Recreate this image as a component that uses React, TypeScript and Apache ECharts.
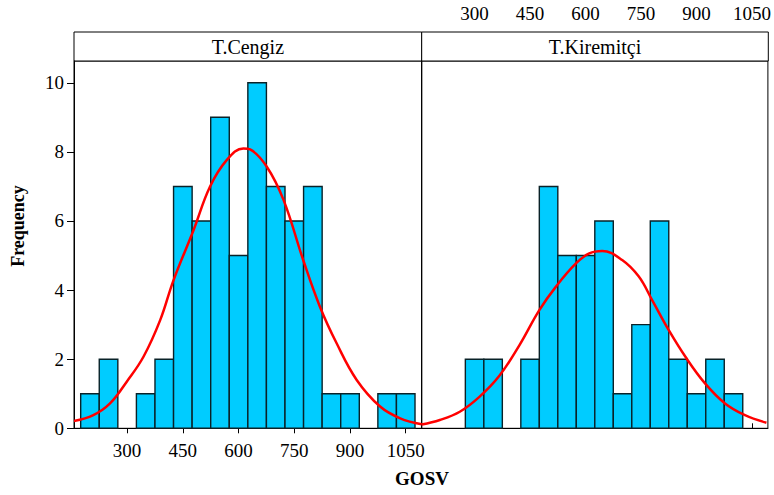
import React, { useEffect, useRef } from "react";
import * as echarts from "echarts";

// ---- data ----
const binStarts = [175, 225, 275, 325, 375, 425, 475, 525, 575, 625, 675, 725, 775, 825, 875, 925, 975, 1025];
const binWidth = 50;
const cengizCounts = [1, 2, 0, 1, 2, 7, 6, 9, 5, 10, 7, 6, 7, 1, 1, 0, 1, 1];
const kiremitciCounts = [0, 0, 2, 2, 0, 2, 7, 5, 5, 6, 1, 3, 6, 2, 1, 2, 1, 0];
const xTickValues = [300, 450, 600, 750, 900, 1050];
const yTickValues = [0, 2, 4, 6, 8, 10];
const panelTitles = ["T.Cengiz", "T.Kiremitçi"];
const xAxisTitle = "GOSV";
const yAxisTitle = "Frequency";
const cengizCurve = [
  [157, 0.21], [209, 0.38], [254, 0.72], [299, 1.35], [344, 2.07], [389, 3.13], [425, 4.29],
  [479, 5.74], [523, 6.99], [568, 7.76], [613, 8.1], [631, 8.07], [676, 7.57], [721, 6.61],
  [774, 4.87], [819, 3.52], [864, 2.46], [918, 1.4], [981, 0.63], [1035, 0.29], [1093, 0.12],
];
const kiremitciCurve = [
  [157, 0.11], [206, 0.24], [260, 0.48], [313, 0.91], [367, 1.52], [421, 2.4], [475, 3.42],
  [520, 4.1], [574, 4.77], [610, 5.06], [645, 5.13], [699, 4.87], [744, 4.39], [780, 3.71],
  [825, 2.84], [870, 2.07], [923, 1.3], [977, 0.72], [1031, 0.38], [1089, 0.16],
];

const X_MIN = 157;
const X_MAX = 1093;
const Y_MAX = 10.63;

const FONT = "Times New Roman, Liberation Serif, DejaVu Serif, serif";

export default function App() {
  const ref = useRef<HTMLDivElement>(null);

  useEffect(() => {
    if (!ref.current) return;
    const chart = echarts.init(ref.current, undefined, { renderer: "svg" });

    const barData = (counts: number[]) =>
      binStarts
        .map((s, i) => [s, s + binWidth, counts[i]])
        .filter((d) => d[2] > 0);

    const renderBar = (params: any, api: any) => {
      const lo = api.value(0);
      const hi = api.value(1);
      const c = api.value(2);
      const p0 = api.coord([lo, c]);
      const p1 = api.coord([hi, 0]);
      return {
        type: "rect",
        shape: { x: p0[0], y: p0[1], width: p1[0] - p0[0], height: p1[1] - p0[1] },
        style: { fill: "#00CCFF", stroke: "#0a2228", lineWidth: 1.4 },
      };
    };

    const gridTop = 61;
    const gridBottom = 495 - 428.3;
    const leftX0 = 74;
    const midX = 421.7;
    const rightX1 = 768.3;

    const fmt = (v: number) => String(v);

    const xAxisBase = {
      type: "value",
      min: X_MIN,
      max: X_MAX,
      splitLine: { show: false },
      axisLine: { show: true, lineStyle: { color: "#000", width: 1 } },
      axisTick: { show: true, customValues: xTickValues, length: 5, lineStyle: { color: "#000" } },
      axisLabel: { customValues: xTickValues, formatter: fmt, fontSize: 19, color: "#000", fontFamily: FONT },
    };

    const yAxisBase = {
      type: "value",
      min: 0,
      max: Y_MAX,
      splitLine: { show: false },
      axisLine: { show: true, lineStyle: { color: "#000", width: 1 } },
    };

    const option: any = {
      animation: false,
      backgroundColor: "#fff",
      textStyle: { fontFamily: FONT },
      grid: [
        { left: leftX0, top: gridTop, right: 774 - midX, bottom: gridBottom, show: true, borderColor: "#000", borderWidth: 1 },
        { left: midX, top: gridTop, right: 774 - rightX1, bottom: gridBottom, show: true, borderColor: "#000", borderWidth: 1 },
      ],
      xAxis: [
        {
          ...xAxisBase,
          gridIndex: 0,
          position: "bottom",
          axisLabel: { ...xAxisBase.axisLabel, margin: 13 },
        },
        {
          ...xAxisBase,
          gridIndex: 1,
          position: "top",
          offset: gridTop - 32,
          axisLine: { show: true, lineStyle: { color: "#000", width: 1 } },
          axisLabel: { ...xAxisBase.axisLabel, margin: 9 },
        },
      ],
      yAxis: [
        {
          ...yAxisBase,
          gridIndex: 0,
          axisTick: { show: true, customValues: yTickValues, length: 7, lineStyle: { color: "#000" } },
          axisLabel: { customValues: yTickValues, formatter: fmt, fontSize: 19, color: "#000", fontFamily: FONT, margin: 10 },
        },
        {
          ...yAxisBase,
          gridIndex: 1,
          axisTick: { show: false },
          axisLabel: { show: false },
        },
      ],
      graphic: [
        {
          type: "rect",
          shape: { x: leftX0, y: 32, width: midX - leftX0, height: gridTop - 32 },
          style: { fill: "#fff", stroke: "#000", lineWidth: 1 },
        },
        {
          type: "rect",
          shape: { x: midX, y: 32, width: rightX1 - midX, height: gridTop - 32 },
          style: { fill: "#fff", stroke: "#000", lineWidth: 1 },
        },
        {
          type: "text",
          x: (leftX0 + midX) / 2,
          y: 46.5,
          style: { text: panelTitles[0], fontSize: 20, fontFamily: FONT, fill: "#000", textAlign: "center", textVerticalAlign: "middle" },
        },
        {
          type: "text",
          x: (midX + rightX1) / 2,
          y: 46.5,
          style: { text: panelTitles[1], fontSize: 20, fontFamily: FONT, fill: "#000", textAlign: "center", textVerticalAlign: "middle" },
        },
        {
          type: "text",
          x: 422,
          y: 478,
          style: { text: xAxisTitle, fontSize: 19, fontWeight: "bold", fontFamily: FONT, fill: "#000", textAlign: "center", textVerticalAlign: "middle" },
        },
        {
          type: "text",
          x: 18,
          y: 226,
          rotation: Math.PI / 2,
          style: { text: yAxisTitle, fontSize: 18, fontWeight: "bold", fontFamily: FONT, fill: "#000", textAlign: "center", textVerticalAlign: "middle" },
        },
      ],
      series: [
        {
          type: "custom",
          xAxisIndex: 0,
          yAxisIndex: 0,
          renderItem: renderBar,
          encode: { x: [0, 1], y: 2 },
          data: barData(cengizCounts),
        },
        {
          type: "custom",
          xAxisIndex: 1,
          yAxisIndex: 1,
          renderItem: renderBar,
          encode: { x: [0, 1], y: 2 },
          data: barData(kiremitciCounts),
        },
        {
          type: "line",
          xAxisIndex: 0,
          yAxisIndex: 0,
          data: cengizCurve,
          smooth: 0.4,
          showSymbol: false,
          clip: false,
          lineStyle: { color: "#FF0000", width: 2.5 },
          z: 5,
        },
        {
          type: "line",
          xAxisIndex: 1,
          yAxisIndex: 1,
          data: kiremitciCurve,
          smooth: 0.4,
          showSymbol: false,
          clip: false,
          lineStyle: { color: "#FF0000", width: 2.5 },
          z: 5,
        },
      ],
    };

    chart.setOption(option);
    return () => chart.dispose();
  }, []);

  return (
    <div
      ref={ref}
      style={{ position: "fixed", left: 0, top: 0, width: 774, height: 495, background: "#fff" }}
    />
  );
}
